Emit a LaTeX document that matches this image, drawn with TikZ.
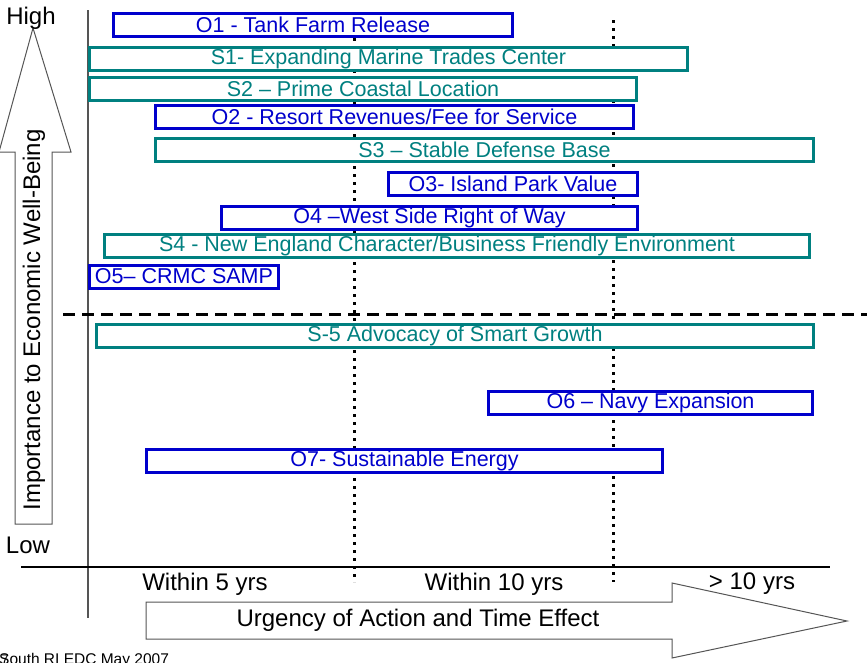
\documentclass[tikz,border=0pt]{standalone}
\usepackage{fontspec}
\setmainfont{Liberation Sans}
\definecolor{bbl}{HTML}{0000CC}
\definecolor{tea}{HTML}{008080}
\definecolor{axg}{HTML}{555555}
\begin{document}
\begin{tikzpicture}[x=1pt,y=-1pt,
  bx/.style={draw, line width=3pt, fill=white, inner sep=0pt, minimum height=23pt,
             font=\fontsize{21.5}{24}\selectfont},
  obox/.style={bx, draw=bbl, text=bbl},
  sbox/.style={bx, draw=tea, text=tea},
  axlab/.style={font=\fontsize{24}{28}\selectfont, inner sep=0pt},
  dotl/.style={line width=3pt, dash pattern=on 3pt off 5pt},
  dashl/.style={line width=3pt, dash pattern=on 12pt off 7pt},
  arrowshape/.style={draw=axg, line width=1pt, fill=white}
]
\useasboundingbox (0,0) rectangle (867,662);

% axes
\coordinate (vtop) at (88,10);
\coordinate (vbot) at (88,618);
\coordinate (hl) at (21,567);
\coordinate (hr) at (830,567);
\draw[axg, line width=1.5pt] (vtop) -- (vbot);
\draw[line width=1.5pt] (hl) -- (hr);

% dotted time dividers
\coordinate (d1t) at (354,38);
\coordinate (d1b) at (354,582);
\coordinate (d2t) at (613,20);
\coordinate (d2b) at (613,582);
\draw[dotl] (d1t) -- (d1b);
\draw[dotl] (d2t) -- (d2b);

% dashed importance divider
\coordinate (dl) at (63,314);
\coordinate (dr) at (867,314);
\draw[dashl] (dl) -- (dr);

% vertical arrow
\draw[arrowshape] (15,524) -- (15,152) -- (-1,152) -- (33,28) -- (71,152) -- (52,152) -- (52,524) -- cycle;
\node[axlab, rotate=90] (imp) at (34,320) {Importance to Economic Well-Being};
\node[axlab, anchor=base] (high) at (31,24) {High};
\node[axlab, anchor=base] (low) at (28,553) {Low};

% horizontal arrow
\draw[arrowshape] (146,602) -- (672,602) -- (672,583) -- (847,621) -- (672,658) -- (672,639) -- (146,639) -- cycle;
\node[axlab] (urg) at (418,620.5) {Urgency of Action and Time Effect};
\node[axlab, anchor=base] (w5) at (205,590) {Within 5 yrs};
\node[axlab, anchor=base] (w10) at (494,590) {Within 10 yrs};
\node[axlab, anchor=base] (w10p) at (752,589) {> 10 yrs};

% boxes
\node[obox, minimum width=399pt] (o1) at (313,24.5) {O1 - Tank Farm Release};
\node[sbox, minimum width=598pt] (s1) at (388.5,58.5) {S1- Expanding Marine Trades Center};
\node[sbox, minimum width=547pt] (s2) at (363,88.5) {S2 – Prime Coastal Location};
\node[obox, minimum width=478pt] (o2) at (394.5,116.5) {O2 - Resort Revenues/Fee for Service};
\node[sbox, minimum width=658pt] (s3) at (484.5,150) {S3 – Stable Defense Base};
\node[obox, minimum width=249pt] (o3) at (513,184) {O3- Island Park Value};
\node[obox, minimum width=416pt] (o4) at (429.5,217.5) {O4 –West Side Right of Way};
\node[sbox, minimum width=705pt] (s4) at (457,246) {S4 - New England Character/Business Friendly Environment\hspace*{20pt}};
\node[obox, minimum width=189pt] (o5) at (184,276.5) {O5– CRMC SAMP};
\node[sbox, minimum width=717pt] (s5) at (455,335.5) {S-5 Advocacy of Smart Growth};
\node[obox, minimum width=324pt] (o6) at (650.5,403) {O6 – Navy Expansion};
\node[obox, minimum width=516pt] (o7) at (404.5,460.5) {O7- Sustainable Energy};

% footer
\node[anchor=base west, inner sep=0pt, font=\fontsize{15.5}{17}\selectfont] (foot) at (-1,664) {South RI EDC May 2007};
\node[anchor=base west, inner sep=0pt, font=\fontsize{14}{16}\selectfont] (pg) at (1,664) {7};
\end{tikzpicture}
\end{document}
